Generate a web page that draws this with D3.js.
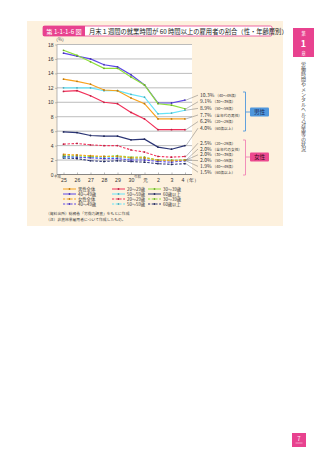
<!DOCTYPE html>
<html>
<head>
<meta charset="utf-8">
<script src="https://cdn.jsdelivr.net/npm/d3@7"></script>
<style>
body{margin:0;background:#fff;}
svg{display:block;font-family:"Noto Sans CJK JP","Noto Sans",sans-serif;}
</style>
</head>
<body>
<svg width="320" height="453"></svg>
<script>
// lata (heisei 25 .. reiwa 4)
var lata = ["25","26","27","28","29","30","元","2","3","4"];
var osY = [0,2,4,6,8,10,12,14,16,18];

// mezczyzni
var mCaly = [13.2,12.9,12.5,11.7,11.6,10.6,9.8,7.7,7.7,7.7];
var m20 = [11.5,11.6,10.9,10.0,9.8,8.6,7.7,6.2,6.2,6.2];
var m30 = [17.2,16.5,15.6,14.7,14.7,13.5,12.4,9.8,9.6,9.1];
var m40 = [16.8,16.4,16.0,15.2,14.9,13.8,12.4,9.9,9.9,10.3];
var m50 = [12.0,12.0,12.0,11.6,11.6,11.1,10.7,8.4,8.5,8.9];
var m60 = [5.9,5.8,5.4,5.3,5.3,4.8,4.9,3.8,3.5,4.0];
// kobiety
var kCaly = [2.8,2.7,2.6,2.5,2.5,2.3,2.3,2.0,1.9,2.0];
var k20 = [4.2,4.3,4.1,4.0,4.0,3.4,3.1,2.5,2.4,2.5];
var k30 = [2.6,2.6,2.5,2.5,2.6,2.4,2.4,2.0,2.0,2.0];
var k40 = [2.5,2.4,2.3,2.2,2.2,2.0,2.0,1.8,1.7,1.9];
var k50 = [2.4,2.4,2.4,2.3,2.4,2.2,2.2,2.0,1.9,2.0];
var k60 = [2.3,2.2,1.9,1.8,1.9,1.8,1.7,1.5,1.4,1.5];

var nazwySerii = ["男性全体","20～29歳","30～39歳","40～49歳","50～59歳","60歳以上",
                  "女性全体","20～29歳","30～39歳","40～49歳","50～59歳","60歳以上"];
// podpisy na koncu linii
var podpisyM = [["10.3%","（40～49歳）"],["9.1%","（30～39歳）"],["8.9%","（50～59歳）"],["7.7%","（全年代の男性）"],["6.2%","（20～29歳）"],["4.0%","（60歳以上）"]];
var podpisyK = [["2.5%","（20～29歳）"],["2.0%","（全年代の女性）"],["2.0%","（30～39歳）"],["2.0%","（50～59歳）"],["1.9%","（40～49歳）"],["1.5%","（60歳以上）"]];

var kOrange="#f8a21c", kRed="#f2305a", kGreen="#8fe03a", kViolet="#5d46e8", kCyan="#66e3f7", kNavy="#2c3676";
var serie = [
	{d:mCaly,c:kOrange,dash:false},{d:m20,c:kRed,dash:false},{d:m30,c:kGreen,dash:false},
	{d:m40,c:kViolet,dash:false},{d:m50,c:kCyan,dash:false},{d:m60,c:kNavy,dash:false},
	{d:kCaly,c:kOrange,dash:true},{d:k20,c:kRed,dash:true},{d:k30,c:kGreen,dash:true},
	{d:k40,c:kViolet,dash:true},{d:k50,c:kCyan,dash:true},{d:k60,c:kNavy,dash:true}
];
// kolejnosc podpisow -> indeks serii
var porzadekM = [3,2,4,0,1,5];
var porzadekK = [7,6,8,10,9,11];

var svg = d3.select("svg");
var x = d3.scalePoint().domain(lata).range([63.5,185]);
var y = d3.scaleLinear().domain([0,18]).range([174.5,44.5]);

// tlo panelu
svg.append("rect").attr("x",27).attr("y",21).attr("width",256).attr("height",205).attr("fill","#fdf1de");

// tytul
svg.append("rect").attr("x",43).attr("y",26).attr("width",229).attr("height",10).attr("rx",1.5)
	.attr("fill","#fff").attr("stroke","#e8428f").attr("stroke-width",0.8);
svg.append("rect").attr("x",43).attr("y",26).attr("width",42).attr("height",10).attr("fill","#e8428f");
svg.append("text").attr("x",64).attr("y",33.6).attr("text-anchor","middle").attr("fill","#fff")
	.attr("font-size",6.2).text("第 1-1-1-6 図");
svg.append("text").attr("x",89).attr("y",33.6).attr("fill","#222").attr("font-size",6.3)
	.text("月末１週間の就業時間が 60 時間以上の雇用者の割合（性・年齢層別）");

// pole wykresu
svg.append("rect").attr("x",57).attr("y",44.5).attr("width",135).attr("height",130).attr("fill","#fff");
svg.selectAll(".siatka").data(osY.slice(1)).enter().append("line")
	.attr("x1",57).attr("x2",192).attr("y1",function(d){return y(d);}).attr("y2",function(d){return y(d);})
	.attr("stroke","#b4b4b4").attr("stroke-width",0.9);
svg.append("line").attr("x1",57).attr("x2",57).attr("y1",44.5).attr("y2",174.5).attr("stroke","#888").attr("stroke-width",0.6);

// osie
var osL = d3.axisLeft(y).tickValues(osY).tickSize(2).tickFormat(d3.format("d"));
svg.append("g").attr("transform","translate(57,0)").call(osL)
	.call(function(g){g.select(".domain").remove();
		g.selectAll("line").attr("stroke","#888").attr("stroke-width",0.5);
		g.selectAll("text").attr("font-size",5).attr("fill","#333").attr("x",-3.5).attr("font-family",null);});
var osD = d3.axisBottom(x).tickSize(2).tickFormat(function(d){return d=="4"?"4（年）":d;});
svg.append("g").attr("transform","translate(0,174.5)").call(osD)
	.call(function(g){g.select(".domain").attr("d","M57,0H192").attr("stroke","#555").attr("stroke-width",0.7);
		g.selectAll("line").attr("stroke","#777").attr("stroke-width",0.5).attr("y2",-2);
		g.selectAll("text").attr("font-size",5.2).attr("fill","#333").attr("y",3.8).attr("font-family",null)
		.attr("dx",function(d){return d=="4"?"5":"0";});});
svg.append("text").attr("x",57.5).attr("y",177.6).attr("font-size",3.4).attr("fill","#555").attr("text-anchor","middle").text("平成");
svg.append("text").attr("x",x("元")-7).attr("y",177.6).attr("font-size",3.4).attr("fill","#555").attr("text-anchor","middle").text("令和");
svg.append("text").attr("x",60).attr("y",41).attr("font-size",4.5).attr("fill","#555").attr("text-anchor","middle").text("（%）");

// linie
var linia = d3.line().x(function(d,i){return x(lata[i]);}).y(function(d){return y(d);});
for(let i=serie.length-1; i>=0; i--){
	var s = serie[i];
	svg.append("path").datum(s.d).attr("d",linia).attr("fill","none")
		.attr("stroke",s.c).attr("stroke-width",s.dash?1.1:1.2)
		.attr("stroke-dasharray",s.dash?"2.5,1.5":null);
	svg.selectAll(null).data(s.d).enter().append("circle")
		.attr("cx",function(d,j){return x(lata[j]);}).attr("cy",function(d){return y(d);})
		.attr("r",0.9).attr("fill",d3.color(s.c).darker(0.8));
}

// podpisy koncowe
function podpisy(lista,porzadek,y0,krok){
	for(let i=0; i<lista.length; i++){
		var s = serie[porzadek[i]];
		var yy = y0+i*krok;
		svg.append("line").attr("x1",x("4")+1).attr("y1",y(s.d[s.d.length-1]))
			.attr("x2",198).attr("y2",yy-1.6).attr("stroke","#555").attr("stroke-width",0.4);
		var t = svg.append("text").attr("x",200).attr("y",yy).attr("fill","#333");
		t.append("tspan").attr("font-size",5).text(lista[i][0]);
		t.append("tspan").attr("font-size",3.7).attr("dx",1).text(lista[i][1]);
	}
}
podpisy(podpisyM,porzadekM,96.8,6.6);
podpisy(podpisyK,porzadekK,144.8,5.8);

// nawiasy i pudelka
function nawias(y1,y2,kolor){
	svg.append("path").attr("d","M243,"+y1+"h2.5V"+y2+"h-2.5").attr("fill","none").attr("stroke",kolor).attr("stroke-width",0.9);
}
nawias(92,131,"#4f97dd");
nawias(140,175,"#f083b4");
svg.append("line").attr("x1",245.5).attr("x2",250).attr("y1",112).attr("y2",112).attr("stroke","#4f97dd").attr("stroke-width",0.9);
svg.append("line").attr("x1",245.5).attr("x2",250).attr("y1",157).attr("y2",157).attr("stroke","#f083b4").attr("stroke-width",0.9);
svg.append("rect").attr("x",250).attr("y",107.5).attr("width",19).attr("height",9).attr("rx",1).attr("fill","#4f97dd");
svg.append("text").attr("x",259.5).attr("y",114.3).attr("text-anchor","middle").attr("font-size",5.6).attr("fill","#1b2a55").text("男性");
svg.append("rect").attr("x",250).attr("y",152.5).attr("width",19).attr("height",9).attr("rx",1).attr("fill","#ec4a90");
svg.append("text").attr("x",259.5).attr("y",159.3).attr("text-anchor","middle").attr("font-size",5.6).attr("fill","#3a0a20").text("女性");

// legenda
var kolX = [63,112,148];
for(let i=0; i<serie.length; i++){
	var kol = i%3, wiersz = Math.floor(i/3);
	var lx = kolX[kol], ly = 189+wiersz*5;
	svg.append("line").attr("x1",lx).attr("x2",lx+13).attr("y1",ly).attr("y2",ly)
		.attr("stroke",serie[i].c).attr("stroke-width",1)
		.attr("stroke-dasharray",serie[i].dash?"2.2,1.5":null);
	svg.append("circle").attr("cx",lx+6.5).attr("cy",ly).attr("r",0.9).attr("fill",d3.color(serie[i].c).darker(0.8));
	svg.append("text").attr("x",lx+15).attr("y",ly+1.5).attr("font-size",4.3).attr("fill","#333").text(nazwySerii[i]);
}

// zrodlo
svg.append("text").attr("x",46).attr("y",215).attr("font-size",3.8).attr("fill","#444").text("（資料出所）総務省「労働力調査」をもとに作成");
svg.append("text").attr("x",46).attr("y",221).attr("font-size",3.8).attr("fill","#444").text("（注）非農林業雇用者について作成したもの。");

// zakladka rozdzialu
svg.append("rect").attr("x",293).attr("y",28).attr("width",21).attr("height",29).attr("fill","#e8428f");
svg.append("text").attr("x",303.5).attr("y",35).attr("text-anchor","middle").attr("font-size",4.2).attr("fill","#fff").text("第");
svg.append("text").attr("x",303.5).attr("y",47).attr("text-anchor","middle").attr("font-size",9).attr("font-weight","bold").attr("fill","#fff").text("1");
svg.append("text").attr("x",303.5).attr("y",54.5).attr("text-anchor","middle").attr("font-size",4.2).attr("fill","#fff").text("章");
svg.append("text").attr("x",303.5).attr("y",62).attr("font-size",5).attr("fill","#444")
	.attr("writing-mode","vertical-rl").attr("style","writing-mode:vertical-rl;text-orientation:upright").text("労働時間やメンタルヘルス対策等の状況");

// numer strony
svg.append("rect").attr("x",292).attr("y",433).attr("width",14).attr("height",14).attr("fill","#e8428f");
svg.append("text").attr("x",299).attr("y",441).attr("text-anchor","middle").attr("font-size",6).attr("fill","#fff").text("7");
svg.append("line").attr("x1",295.5).attr("x2",302.5).attr("y1",443).attr("y2",443).attr("stroke","#fff").attr("stroke-width",0.5);
</script>
</body>
</html>
